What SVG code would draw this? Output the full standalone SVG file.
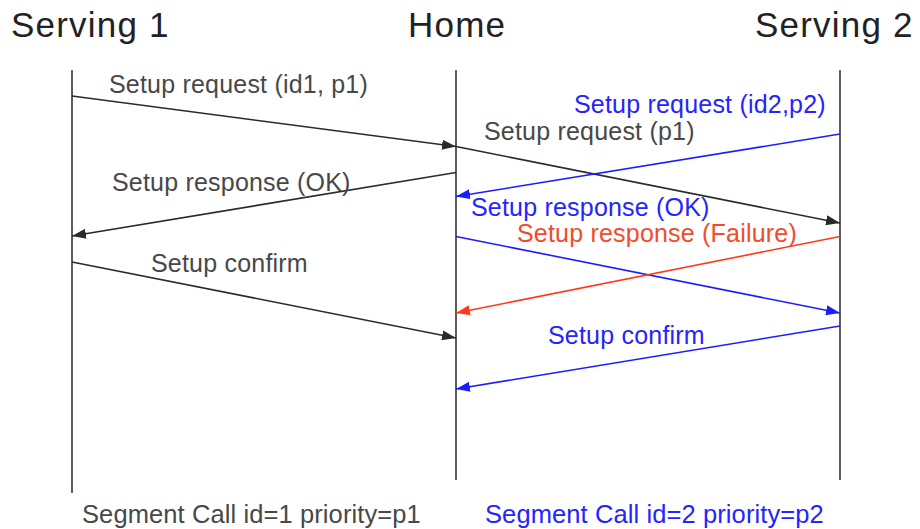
<svg xmlns="http://www.w3.org/2000/svg" width="920" height="529" viewBox="0 0 920 529">
  <style>
    .head { font-family: "Liberation Sans", Arial, sans-serif; font-size: 35px; fill: #222; letter-spacing: 1.2px; }
    .lbl { font-family: "Liberation Sans", Arial, sans-serif; font-size: 25px; letter-spacing: 0.2px; }
    .foot { font-family: "Liberation Sans", Arial, sans-serif; font-size: 25.5px; letter-spacing: 0.1px; }
    .k { fill: #484848; }
    .b { fill: #2424ff; }
    .r { fill: #f24a2a; }
    .life { stroke: #333; stroke-width: 1.6; fill: none; }
    .msg { stroke-width: 1.6; fill: none; }
    .mk { stroke: #2a2a2a; marker-end: url(#ah-k); }
    .mb { stroke: #1c1cff; marker-end: url(#ah-b); }
    .mr { stroke: #ff3a1a; marker-end: url(#ah-r); }
  </style>
  <defs>
    <marker id="ah-k" markerUnits="userSpaceOnUse" markerWidth="14" markerHeight="10" refX="14" refY="5" orient="auto">
      <path d="M0,0 L14,5 L0,10 z" fill="#2a2a2a"/>
    </marker>
    <marker id="ah-b" markerUnits="userSpaceOnUse" markerWidth="14" markerHeight="10" refX="14" refY="5" orient="auto">
      <path d="M0,0 L14,5 L0,10 z" fill="#1c1cff"/>
    </marker>
    <marker id="ah-r" markerUnits="userSpaceOnUse" markerWidth="14" markerHeight="10" refX="14" refY="5" orient="auto">
      <path d="M0,0 L14,5 L0,10 z" fill="#ff3a1a"/>
    </marker>
  </defs>
  <rect width="920" height="529" fill="#fff"/>

  <!-- participants with their lifelines -->
  <g id="serving1">
    <text class="head" x="11" y="37">Serving 1</text>
    <line class="life" x1="72" y1="70" x2="72" y2="493"/>
    <text class="foot k" x="82" y="523">Segment Call id=1 priority=p1</text>
  </g>
  <g id="home">
    <text class="head" x="408" y="37">Home</text>
    <line class="life" x1="456" y1="70" x2="456" y2="480"/>
  </g>
  <g id="serving2">
    <text class="head" x="755" y="37">Serving 2</text>
    <line class="life" x1="840" y1="70" x2="840" y2="480"/>
    <text class="foot b" x="485" y="523">Segment Call id=2 priority=p2</text>
  </g>

  <!-- messages -->
  <g id="connectors">
    <line class="msg mk" x1="72" y1="96" x2="456" y2="146.5"/>
    <line class="msg mk" x1="456" y1="146.5" x2="840" y2="223"/>
    <line class="msg mb" x1="840" y1="134" x2="456" y2="196.5"/>
    <line class="msg mk" x1="456" y1="172.5" x2="72" y2="236"/>
    <line class="msg mk" x1="72" y1="262" x2="456" y2="338"/>
    <line class="msg mb" x1="456" y1="236.5" x2="840" y2="313"/>
    <line class="msg mr" x1="840" y1="236.5" x2="456" y2="313"/>
    <line class="msg mb" x1="840" y1="326" x2="456" y2="389"/>
  </g>

  <g id="labels">
    <text class="lbl k" x="109" y="93">Setup request (id1, p1)</text>
    <text class="lbl b" x="574" y="113">Setup request (id2,p2)</text>
    <text class="lbl k" x="484" y="140">Setup request (p1)</text>
    <text class="lbl k" x="112" y="191">Setup response (OK)</text>
    <text class="lbl b" x="471" y="216">Setup response (OK)</text>
    <text class="lbl r" x="517" y="242">Setup response (Failure)</text>
    <text class="lbl k" x="151" y="272">Setup confirm</text>
    <text class="lbl b" x="548" y="344">Setup confirm</text>
  </g>
</svg>
